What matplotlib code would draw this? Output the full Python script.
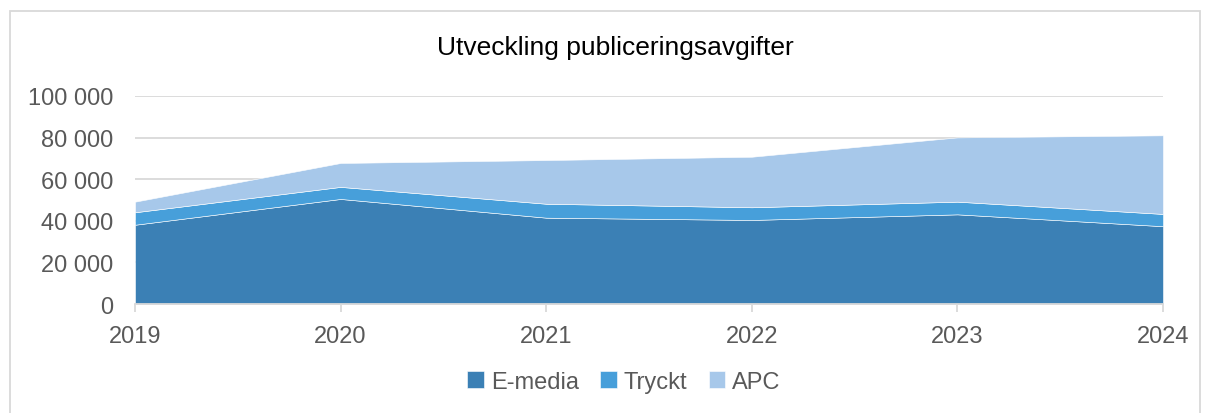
#!/usr/bin/env python3
"""
Utveckling publiceringsavgifter - stacked area
"""

import matplotlib.pyplot as plt
from matplotlib.patches import Rectangle
from matplotlib.ticker import FuncFormatter

plt.rcParams["font.family"] = ["Liberation Sans", "DejaVu Sans"]

years = ["2019", "2020", "2021", "2022", "2023", "2024"]
e_media = [38100, 50500, 41500, 40400, 43100, 37400]
tryckt = [6000, 5800, 6700, 6100, 6100, 5900]
apc = [5100, 11500, 21000, 24300, 30900, 37800]

colors = ["#3B80B5", "#479FDA", "#A7C8EA"]
labels = ["E-media", "Tryckt", "APC"]

fig = plt.figure(figsize=(12.06, 4.14), dpi=100)
ax = fig.add_axes([135 / 1206, 1 - 305 / 414, (1163 - 135) / 1206, (305 - 97) / 414])

x = list(range(len(years)))
ax.stackplot(x, e_media, tryckt, apc, colors=colors, labels=labels,
             edgecolor="white", linewidth=0.4)

ax.set_xlim(0, len(years) - 1)
ax.set_ylim(0, 100000)
ax.set_yticks(range(0, 100001, 20000))
ax.yaxis.set_major_formatter(FuncFormatter(lambda v, p: f"{int(v):,}".replace(",", " ")))
ax.set_xticks(x)
ax.set_xticklabels(years)

ax.grid(axis="y", color="#D9D9D9", linewidth=1.3)
ax.set_axisbelow(True)
for side in ["left", "right", "top"]:
    ax.spines[side].set_visible(False)
ax.spines["bottom"].set_color("#D9D9D9")
ax.spines["bottom"].set_linewidth(1.3)
ax.tick_params(axis="y", length=0, pad=15.5, labelsize=17, labelcolor="#595959")
ax.tick_params(axis="x", length=6, width=1.3, color="#D9D9D9", pad=9,
               labelsize=17, labelcolor="#595959")

fig.text(615 / 1206, 1 - 48 / 414, "Utveckling publiceringsavgifter",
         ha="center", va="center", fontsize=19, color="#000000")

fig.legend(loc="center", bbox_to_anchor=(624 / 1206, 1 - 383 / 414), ncol=3,
           frameon=False, fontsize=17, handlelength=0.7, handleheight=0.7,
           handletextpad=0.3, columnspacing=0.9, labelcolor="#595959")

# Outer chart border
fig.patches.append(Rectangle((10 / 1206, -0.01), 1190 / 1206, 1 - 12 / 414 + 0.01,
                             transform=fig.transFigure, fill=False,
                             edgecolor="#D9D9D9", linewidth=1.3))

fig.savefig("out.png", dpi=100)
